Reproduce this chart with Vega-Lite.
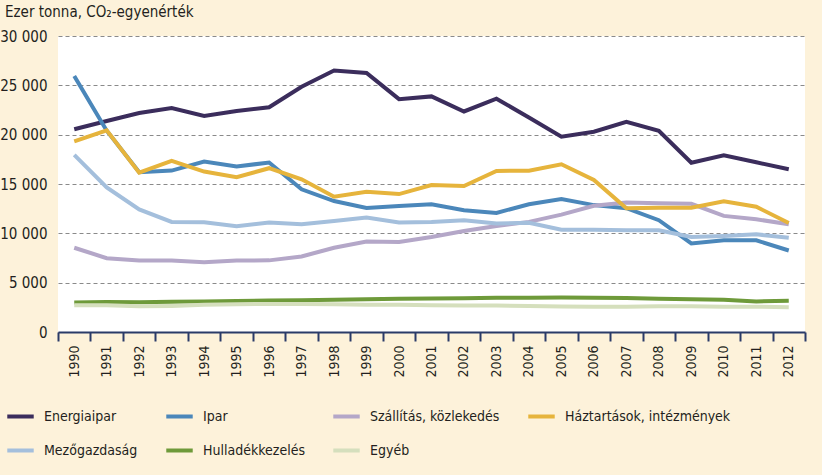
{
  "$schema": "https://vega.github.io/schema/vega-lite/v6.json",
  "autosize": {"type": "none"},
  "width": 747,
  "height": 296,
  "padding": {"left": 58, "top": 36, "right": 17, "bottom": 143},
  "background": "#fdf2da",
  "title": {
    "text": "Ezer tonna, CO₂-egyenérték",
    "anchor": "start",
    "frame": "group",
    "dx": -53,
    "offset": 9,
    "fontSize": 15,
    "fontWeight": "normal",
    "font": "DejaVu Sans Condensed, sans-serif",
    "color": "#231f20"
  },
  "config": {
    "view": {"fill": "white", "stroke": null},
    "font": "DejaVu Sans Condensed, sans-serif"
  },
  "data": {
    "values": [
      {"ev": "1990", "ag": "Energiaipar", "v": 20550},
      {"ev": "1991", "ag": "Energiaipar", "v": 21380},
      {"ev": "1992", "ag": "Energiaipar", "v": 22200},
      {"ev": "1993", "ag": "Energiaipar", "v": 22700},
      {"ev": "1994", "ag": "Energiaipar", "v": 21900},
      {"ev": "1995", "ag": "Energiaipar", "v": 22400},
      {"ev": "1996", "ag": "Energiaipar", "v": 22780},
      {"ev": "1997", "ag": "Energiaipar", "v": 24850},
      {"ev": "1998", "ag": "Energiaipar", "v": 26500},
      {"ev": "1999", "ag": "Energiaipar", "v": 26250},
      {"ev": "2000", "ag": "Energiaipar", "v": 23600},
      {"ev": "2001", "ag": "Energiaipar", "v": 23880},
      {"ev": "2002", "ag": "Energiaipar", "v": 22350},
      {"ev": "2003", "ag": "Energiaipar", "v": 23650},
      {"ev": "2004", "ag": "Energiaipar", "v": 21750},
      {"ev": "2005", "ag": "Energiaipar", "v": 19800},
      {"ev": "2006", "ag": "Energiaipar", "v": 20300},
      {"ev": "2007", "ag": "Energiaipar", "v": 21300},
      {"ev": "2008", "ag": "Energiaipar", "v": 20400},
      {"ev": "2009", "ag": "Energiaipar", "v": 17150},
      {"ev": "2010", "ag": "Energiaipar", "v": 17900},
      {"ev": "2011", "ag": "Energiaipar", "v": 17200},
      {"ev": "2012", "ag": "Energiaipar", "v": 16500},

      {"ev": "1990", "ag": "Ipar", "v": 25950},
      {"ev": "1991", "ag": "Ipar", "v": 20400},
      {"ev": "1992", "ag": "Ipar", "v": 16190},
      {"ev": "1993", "ag": "Ipar", "v": 16360},
      {"ev": "1994", "ag": "Ipar", "v": 17280},
      {"ev": "1995", "ag": "Ipar", "v": 16770},
      {"ev": "1996", "ag": "Ipar", "v": 17180},
      {"ev": "1997", "ag": "Ipar", "v": 14460},
      {"ev": "1998", "ag": "Ipar", "v": 13270},
      {"ev": "1999", "ag": "Ipar", "v": 12580},
      {"ev": "2000", "ag": "Ipar", "v": 12760},
      {"ev": "2001", "ag": "Ipar", "v": 12950},
      {"ev": "2002", "ag": "Ipar", "v": 12350},
      {"ev": "2003", "ag": "Ipar", "v": 12070},
      {"ev": "2004", "ag": "Ipar", "v": 12950},
      {"ev": "2005", "ag": "Ipar", "v": 13470},
      {"ev": "2006", "ag": "Ipar", "v": 12860},
      {"ev": "2007", "ag": "Ipar", "v": 12550},
      {"ev": "2008", "ag": "Ipar", "v": 11330},
      {"ev": "2009", "ag": "Ipar", "v": 8980},
      {"ev": "2010", "ag": "Ipar", "v": 9290},
      {"ev": "2011", "ag": "Ipar", "v": 9290},
      {"ev": "2012", "ag": "Ipar", "v": 8260},

      {"ev": "1990", "ag": "Szállítás, közlekedés", "v": 8540},
      {"ev": "1991", "ag": "Szállítás, közlekedés", "v": 7480},
      {"ev": "1992", "ag": "Szállítás, közlekedés", "v": 7240},
      {"ev": "1993", "ag": "Szállítás, közlekedés", "v": 7240},
      {"ev": "1994", "ag": "Szállítás, közlekedés", "v": 7070},
      {"ev": "1995", "ag": "Szállítás, közlekedés", "v": 7240},
      {"ev": "1996", "ag": "Szállítás, közlekedés", "v": 7260},
      {"ev": "1997", "ag": "Szállítás, közlekedés", "v": 7650},
      {"ev": "1998", "ag": "Szállítás, közlekedés", "v": 8540},
      {"ev": "1999", "ag": "Szállítás, közlekedés", "v": 9180},
      {"ev": "2000", "ag": "Szállítás, közlekedés", "v": 9120},
      {"ev": "2001", "ag": "Szállítás, közlekedés", "v": 9620},
      {"ev": "2002", "ag": "Szállítás, közlekedés", "v": 10240},
      {"ev": "2003", "ag": "Szállítás, közlekedés", "v": 10750},
      {"ev": "2004", "ag": "Szállítás, közlekedés", "v": 11160},
      {"ev": "2005", "ag": "Szállítás, közlekedés", "v": 11900},
      {"ev": "2006", "ag": "Szállítás, közlekedés", "v": 12790},
      {"ev": "2007", "ag": "Szállítás, közlekedés", "v": 13130},
      {"ev": "2008", "ag": "Szállítás, közlekedés", "v": 13060},
      {"ev": "2009", "ag": "Szállítás, közlekedés", "v": 12990},
      {"ev": "2010", "ag": "Szállítás, közlekedés", "v": 11770},
      {"ev": "2011", "ag": "Szállítás, közlekedés", "v": 11430},
      {"ev": "2012", "ag": "Szállítás, közlekedés", "v": 10920},

      {"ev": "1990", "ag": "Háztartások, intézmények", "v": 19320},
      {"ev": "1991", "ag": "Háztartások, intézmények", "v": 20440},
      {"ev": "1992", "ag": "Háztartások, intézmények", "v": 16150},
      {"ev": "1993", "ag": "Háztartások, intézmények", "v": 17350},
      {"ev": "1994", "ag": "Háztartások, intézmények", "v": 16260},
      {"ev": "1995", "ag": "Háztartások, intézmények", "v": 15680},
      {"ev": "1996", "ag": "Háztartások, intézmények", "v": 16600},
      {"ev": "1997", "ag": "Háztartások, intézmények", "v": 15480},
      {"ev": "1998", "ag": "Háztartások, intézmények", "v": 13710},
      {"ev": "1999", "ag": "Háztartások, intézmények", "v": 14220},
      {"ev": "2000", "ag": "Háztartások, intézmények", "v": 13980},
      {"ev": "2001", "ag": "Háztartások, intézmények", "v": 14900},
      {"ev": "2002", "ag": "Háztartások, intézmények", "v": 14800},
      {"ev": "2003", "ag": "Háztartások, intézmények", "v": 16330},
      {"ev": "2004", "ag": "Háztartások, intézmények", "v": 16350},
      {"ev": "2005", "ag": "Háztartások, intézmények", "v": 17000},
      {"ev": "2006", "ag": "Háztartások, intézmények", "v": 15400},
      {"ev": "2007", "ag": "Háztartások, intézmények", "v": 12550},
      {"ev": "2008", "ag": "Háztartások, intézmények", "v": 12600},
      {"ev": "2009", "ag": "Háztartások, intézmények", "v": 12600},
      {"ev": "2010", "ag": "Háztartások, intézmények", "v": 13260},
      {"ev": "2011", "ag": "Háztartások, intézmények", "v": 12690},
      {"ev": "2012", "ag": "Háztartások, intézmények", "v": 11050},

      {"ev": "1990", "ag": "Mezőgazdaság", "v": 17960},
      {"ev": "1991", "ag": "Mezőgazdaság", "v": 14660},
      {"ev": "1992", "ag": "Mezőgazdaság", "v": 12420},
      {"ev": "1993", "ag": "Mezőgazdaság", "v": 11160},
      {"ev": "1994", "ag": "Mezőgazdaság", "v": 11120},
      {"ev": "1995", "ag": "Mezőgazdaság", "v": 10710},
      {"ev": "1996", "ag": "Mezőgazdaság", "v": 11090},
      {"ev": "1997", "ag": "Mezőgazdaság", "v": 10920},
      {"ev": "1998", "ag": "Mezőgazdaság", "v": 11260},
      {"ev": "1999", "ag": "Mezőgazdaság", "v": 11600},
      {"ev": "2000", "ag": "Mezőgazdaság", "v": 11090},
      {"ev": "2001", "ag": "Mezőgazdaság", "v": 11150},
      {"ev": "2002", "ag": "Mezőgazdaság", "v": 11330},
      {"ev": "2003", "ag": "Mezőgazdaság", "v": 11000},
      {"ev": "2004", "ag": "Mezőgazdaság", "v": 11080},
      {"ev": "2005", "ag": "Mezőgazdaság", "v": 10370},
      {"ev": "2006", "ag": "Mezőgazdaság", "v": 10370},
      {"ev": "2007", "ag": "Mezőgazdaság", "v": 10300},
      {"ev": "2008", "ag": "Mezőgazdaság", "v": 10300},
      {"ev": "2009", "ag": "Mezőgazdaság", "v": 9620},
      {"ev": "2010", "ag": "Mezőgazdaság", "v": 9730},
      {"ev": "2011", "ag": "Mezőgazdaság", "v": 9900},
      {"ev": "2012", "ag": "Mezőgazdaság", "v": 9560},

      {"ev": "1990", "ag": "Hulladékkezelés", "v": 2990},
      {"ev": "1991", "ag": "Hulladékkezelés", "v": 3030},
      {"ev": "1992", "ag": "Hulladékkezelés", "v": 3020},
      {"ev": "1993", "ag": "Hulladékkezelés", "v": 3060},
      {"ev": "1994", "ag": "Hulladékkezelés", "v": 3100},
      {"ev": "1995", "ag": "Hulladékkezelés", "v": 3150},
      {"ev": "1996", "ag": "Hulladékkezelés", "v": 3190},
      {"ev": "1997", "ag": "Hulladékkezelés", "v": 3220},
      {"ev": "1998", "ag": "Hulladékkezelés", "v": 3260},
      {"ev": "1999", "ag": "Hulladékkezelés", "v": 3310},
      {"ev": "2000", "ag": "Hulladékkezelés", "v": 3360},
      {"ev": "2001", "ag": "Hulladékkezelés", "v": 3400},
      {"ev": "2002", "ag": "Hulladékkezelés", "v": 3430},
      {"ev": "2003", "ag": "Hulladékkezelés", "v": 3460},
      {"ev": "2004", "ag": "Hulladékkezelés", "v": 3480},
      {"ev": "2005", "ag": "Hulladékkezelés", "v": 3490},
      {"ev": "2006", "ag": "Hulladékkezelés", "v": 3480},
      {"ev": "2007", "ag": "Hulladékkezelés", "v": 3450},
      {"ev": "2008", "ag": "Hulladékkezelés", "v": 3380},
      {"ev": "2009", "ag": "Hulladékkezelés", "v": 3330},
      {"ev": "2010", "ag": "Hulladékkezelés", "v": 3270},
      {"ev": "2011", "ag": "Hulladékkezelés", "v": 3100},
      {"ev": "2012", "ag": "Hulladékkezelés", "v": 3160},

      {"ev": "1990", "ag": "Egyéb", "v": 2720},
      {"ev": "1991", "ag": "Egyéb", "v": 2700},
      {"ev": "1992", "ag": "Egyéb", "v": 2600},
      {"ev": "1993", "ag": "Egyéb", "v": 2640},
      {"ev": "1994", "ag": "Egyéb", "v": 2750},
      {"ev": "1995", "ag": "Egyéb", "v": 2800},
      {"ev": "1996", "ag": "Egyéb", "v": 2850},
      {"ev": "1997", "ag": "Egyéb", "v": 2830},
      {"ev": "1998", "ag": "Egyéb", "v": 2800},
      {"ev": "1999", "ag": "Egyéb", "v": 2760},
      {"ev": "2000", "ag": "Egyéb", "v": 2760},
      {"ev": "2001", "ag": "Egyéb", "v": 2720},
      {"ev": "2002", "ag": "Egyéb", "v": 2680},
      {"ev": "2003", "ag": "Egyéb", "v": 2680},
      {"ev": "2004", "ag": "Egyéb", "v": 2640},
      {"ev": "2005", "ag": "Egyéb", "v": 2580},
      {"ev": "2006", "ag": "Egyéb", "v": 2560},
      {"ev": "2007", "ag": "Egyéb", "v": 2560},
      {"ev": "2008", "ag": "Egyéb", "v": 2620},
      {"ev": "2009", "ag": "Egyéb", "v": 2600},
      {"ev": "2010", "ag": "Egyéb", "v": 2570},
      {"ev": "2011", "ag": "Egyéb", "v": 2560},
      {"ev": "2012", "ag": "Egyéb", "v": 2510}
    ]
  },
  "mark": {"type": "line", "strokeWidth": 4, "strokeJoin": "miter", "interpolate": "linear"},
  "encoding": {
    "x": {
      "field": "ev",
      "type": "ordinal",
      "scale": {"type": "band", "paddingInner": 0, "paddingOuter": 0},
      "axis": {
        "title": null,
        "tickBand": "extent",
        "labelAngle": 270,
        "labelAlign": "right",
        "labelBaseline": "middle",
        "labelFontSize": 14,
        "labelColor": "#231f20",
        "labelPadding": 4,
        "domainColor": "#2a3b68",
        "domainWidth": 2,
        "tickColor": "#2a3b68",
        "tickWidth": 2,
        "tickSize": 9,
        "grid": false
      }
    },
    "y": {
      "field": "v",
      "type": "quantitative",
      "scale": {"domain": [0, 30000], "nice": false},
      "axis": {
        "title": null,
        "values": [0, 5000, 10000, 15000, 20000, 25000, 30000],
        "labelExpr": "datum.value == 0 ? '0' : floor(datum.value / 1000) + ' 000'",
        "labelFontSize": 15,
        "labelColor": "#231f20",
        "labelPadding": 11,
        "domain": false,
        "ticks": false,
        "grid": true,
        "gridColor": "#8a8a8a",
        "gridDash": [4, 3],
        "gridWidth": 1
      }
    },
    "color": {
      "field": "ag",
      "type": "nominal",
      "sort": ["Energiaipar", "Ipar", "Szállítás, közlekedés", "Háztartások, intézmények", "Mezőgazdaság", "Hulladékkezelés", "Egyéb"],
      "scale": {
        "domain": ["Energiaipar", "Ipar", "Szállítás, közlekedés", "Háztartások, intézmények", "Mezőgazdaság", "Hulladékkezelés", "Egyéb"],
        "range": ["#3b2d5c", "#4b87ba", "#b4a7c8", "#e6b43c", "#a4bfdc", "#6e9a3a", "#d5dfbd"]
      },
      "legend": {
        "title": null,
        "orient": "none",
        "legendX": -53,
        "legendY": 365,
        "direction": "horizontal",
        "columns": 4,
        "gridAlign": "none",
        "columnPadding": 20,
        "rowPadding": 10,
        "symbolType": "stroke",
        "symbolSize": 700,
        "symbolStrokeWidth": 4,
        "labelFontSize": 14,
        "labelLimit": 400,
        "labelColor": "#231f20",
        "labelOffset": 8
      }
    }
  }
}
